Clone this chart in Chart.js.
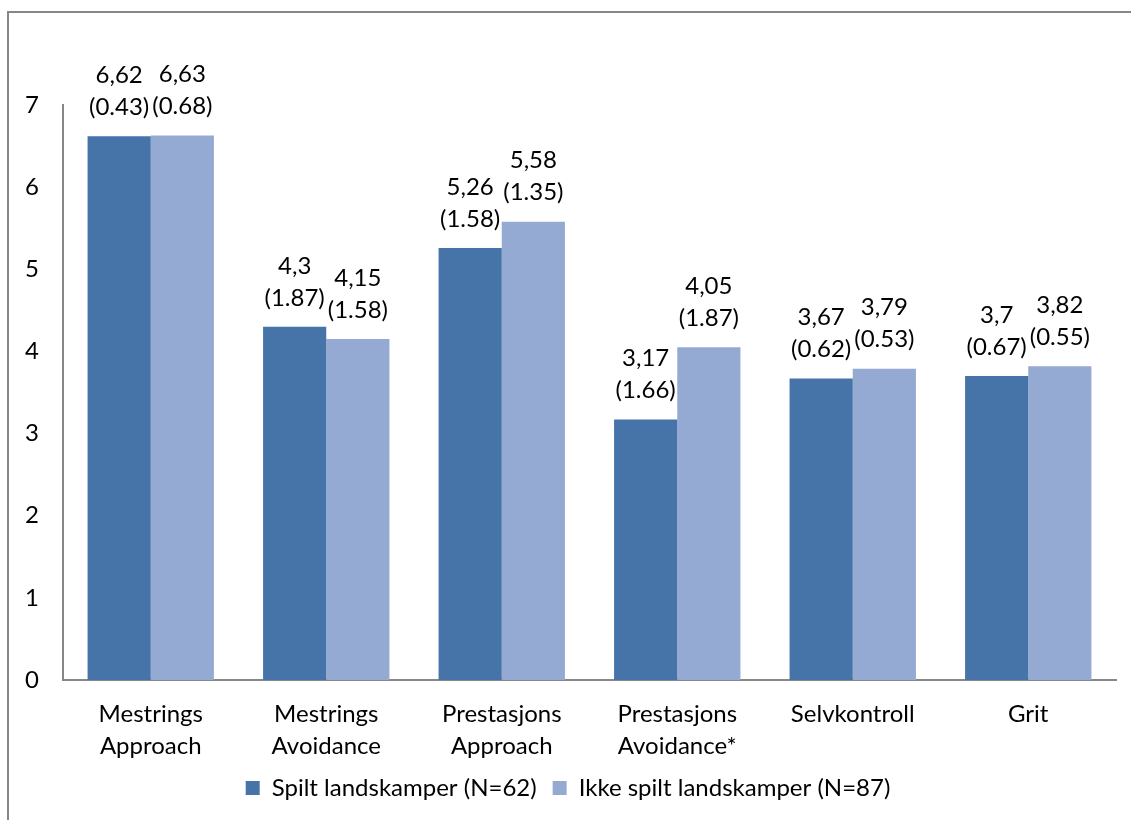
<!DOCTYPE html>
<html>
<head>
<meta charset="utf-8">
<script src="https://cdn.jsdelivr.net/npm/chart.js@4"></script>
<style>
  html, body { margin: 0; padding: 0; background: #fff; }
  #frame { position: absolute; left: 7px; top: 11px; width: 1200px; height: 900px; border-left: 2px solid #878787; border-top: 2px solid #878787; }
  #wrap { position: absolute; left: 0; top: 0; width: 1131px; height: 820px; }
</style>
</head>
<body>
<div id="frame"></div>
<div id="wrap"><canvas id="chart"></canvas></div>
<script>
const categories = [
    ["Mestrings", "Approach"],
    ["Mestrings", "Avoidance"],
    ["Prestasjons", "Approach"],
    ["Prestasjons", "Avoidance*"],
    "Selvkontroll",
    "Grit"
];
const seriesNames = ["Spilt landskamper (N=62)", "Ikke spilt landskamper (N=87)"];
const spiltMeans = [6.62, 4.3, 5.26, 3.17, 3.67, 3.7];
const spiltSD = [0.43, 1.87, 1.58, 1.66, 0.62, 0.67];
const ikkeMeans = [6.63, 4.15, 5.58, 4.05, 3.79, 3.82];
const ikkeSD = [0.68, 1.58, 1.35, 1.87, 0.53, 0.55];
const yTicks = [0, 1, 2, 3, 4, 5, 6, 7];

const sdLists = [spiltSD, ikkeSD];
const FONT = "Lato";
const SIZE = 24;

// mean over (sd) above each bar
const barLabels = {
    id: "barLabels",
    afterDatasetsDraw(chart) {
        const ctx = chart.ctx;
        ctx.save();
        ctx.font = SIZE + "px " + FONT;
        ctx.fillStyle = "#000";
        ctx.textAlign = "center";
        ctx.textBaseline = "middle";
        chart.data.datasets.forEach((ds, i) => {
            chart.getDatasetMeta(i).data.forEach((bar, j) => {
                const mean = String(ds.data[j]).replace(".", ",");
                const sd = "(" + sdLists[i][j].toFixed(2) + ")";
                ctx.fillText(mean, bar.x, bar.y - 61);
                ctx.fillText(sd, bar.x, bar.y - 29);
            });
        });
        ctx.restore();
    }
};

new Chart(document.getElementById("chart"), {
    type: "bar",
    data: {
        labels: categories,
        datasets: [
            { label: seriesNames[0], data: spiltMeans, backgroundColor: "#4673A8" },
            { label: seriesNames[1], data: ikkeMeans, backgroundColor: "#95AAD2" }
        ]
    },
    options: {
        responsive: true,
        maintainAspectRatio: false,
        animation: false,
        categoryPercentage: 0.72,
        barPercentage: 1.0,
        layout: { padding: { left: 20, right: 15, top: 105, bottom: 10 } },
        plugins: {
            legend: {
                position: "bottom",
                labels: { font: { family: FONT, size: SIZE }, color: "#000", boxWidth: 14, boxHeight: 14, padding: 16 }
            },
            tooltip: { enabled: false }
        },
        scales: {
            x: {
                grid: { display: false, drawTicks: false },
                border: { color: "#878787", width: 2 },
                ticks: { font: { family: FONT, size: SIZE, lineHeight: 1.33 }, color: "#000", padding: 18, maxRotation: 0 },
                afterFit(scale) { scale.height = 80; }
            },
            y: {
                min: 0,
                max: 7,
                grid: { display: false, drawTicks: false },
                border: { color: "#878787", width: 2 },
                afterBuildTicks(scale) { scale.ticks = yTicks.map(v => ({ value: v })); },
                ticks: { font: { family: FONT, size: SIZE }, color: "#000", padding: 24 },
                afterFit(scale) { scale.width = 43; }
            }
        }
    },
    plugins: [barLabels]
});
</script>
</body>
</html>
